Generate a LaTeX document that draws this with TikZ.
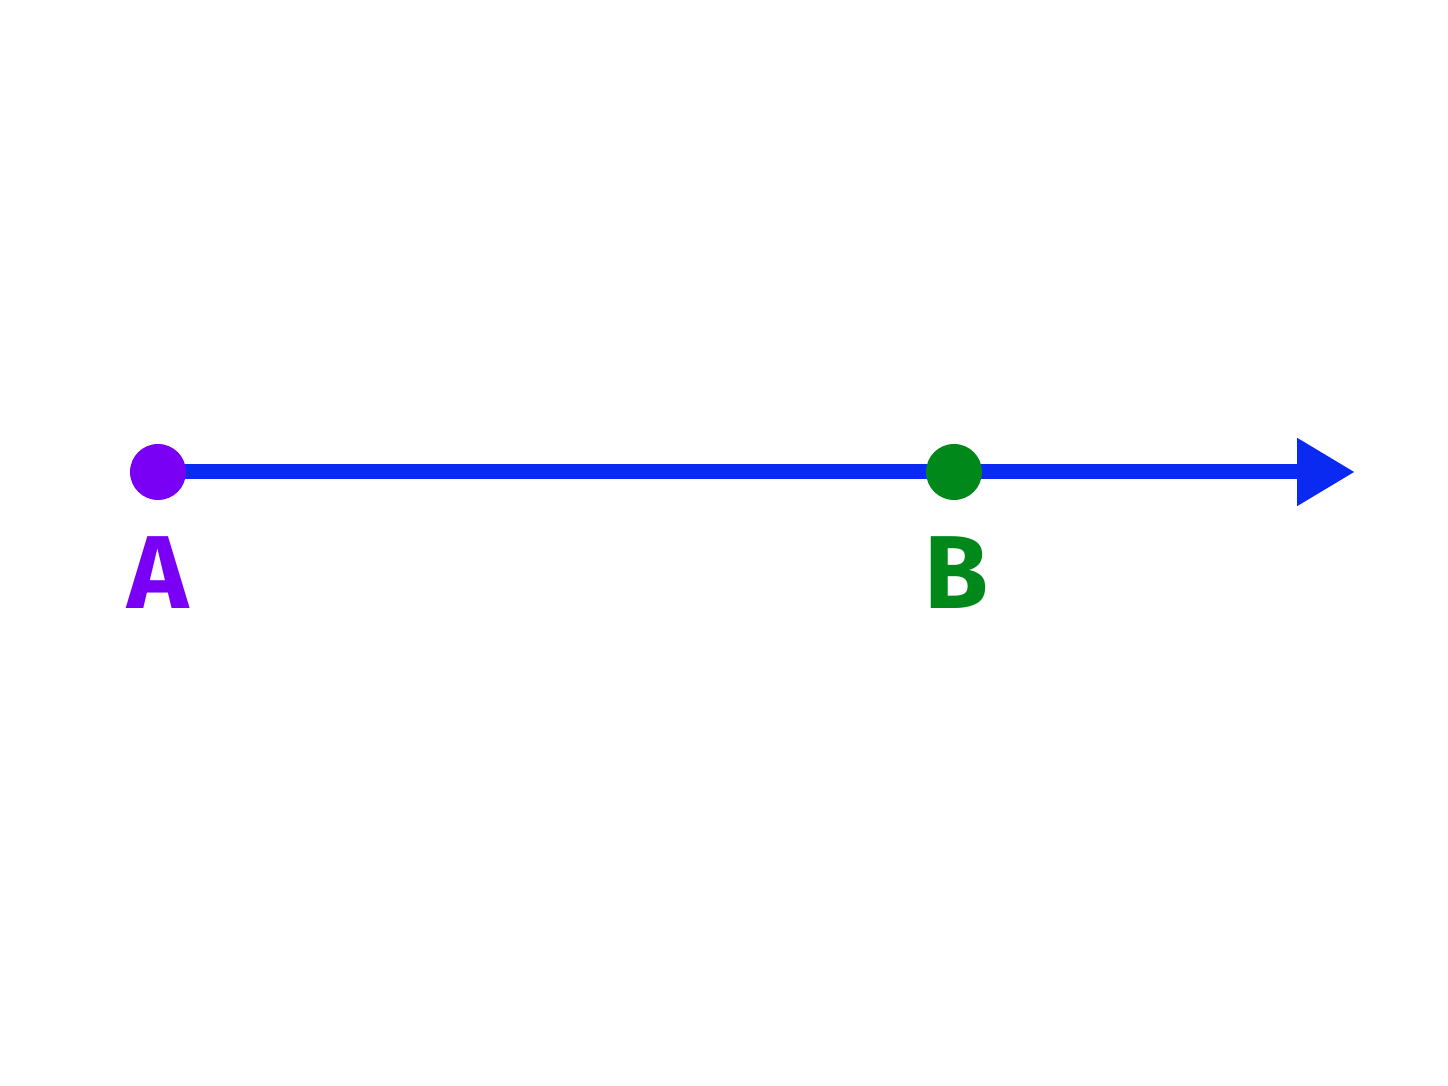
\documentclass[tikz,border=0pt]{standalone}
\usepackage{fontspec}
\setmainfont{Fira Sans}
\usetikzlibrary{arrows.meta}
\definecolor{rayblue}{HTML}{0A2AF2}
\definecolor{ptviolet}{HTML}{7A00F5}
\definecolor{ptgreen}{HTML}{00891A}
\pgfdeclarelayer{bg}
\pgfsetlayers{bg,main}
\tikzset{dot/.style={shape=circle, fill=#1, inner sep=0pt, minimum size=0.56cm}}
\begin{document}
\begin{tikzpicture}
\begin{pgfonlayer}{bg}
\fill[white] (0,0) rectangle (14.48,10.86);
\end{pgfonlayer}
\useasboundingbox (0,0) rectangle (14.48,10.86);
\node[dot=ptviolet] (A) at (1.58, 6.14) {};
\node[dot=ptgreen] (B) at (9.54, 6.14) {};
\coordinate (T) at (13.55, 6.14);
\node[text=ptviolet, font=\bfseries\fontsize{29.5}{30}\selectfont] (LA) at (1.58, 5.13) {A};
\node[text=ptgreen, font=\bfseries\fontsize{29.5}{30}\selectfont] (LB) at (9.56, 5.13) {B};
\begin{pgfonlayer}{bg}
\draw [-{Triangle[length=0.58cm, width=0.64cm]}, line width=0.15cm, draw=rayblue] (A.center) -- (B.center) -- (T);
\end{pgfonlayer}
\end{tikzpicture}
\end{document}
